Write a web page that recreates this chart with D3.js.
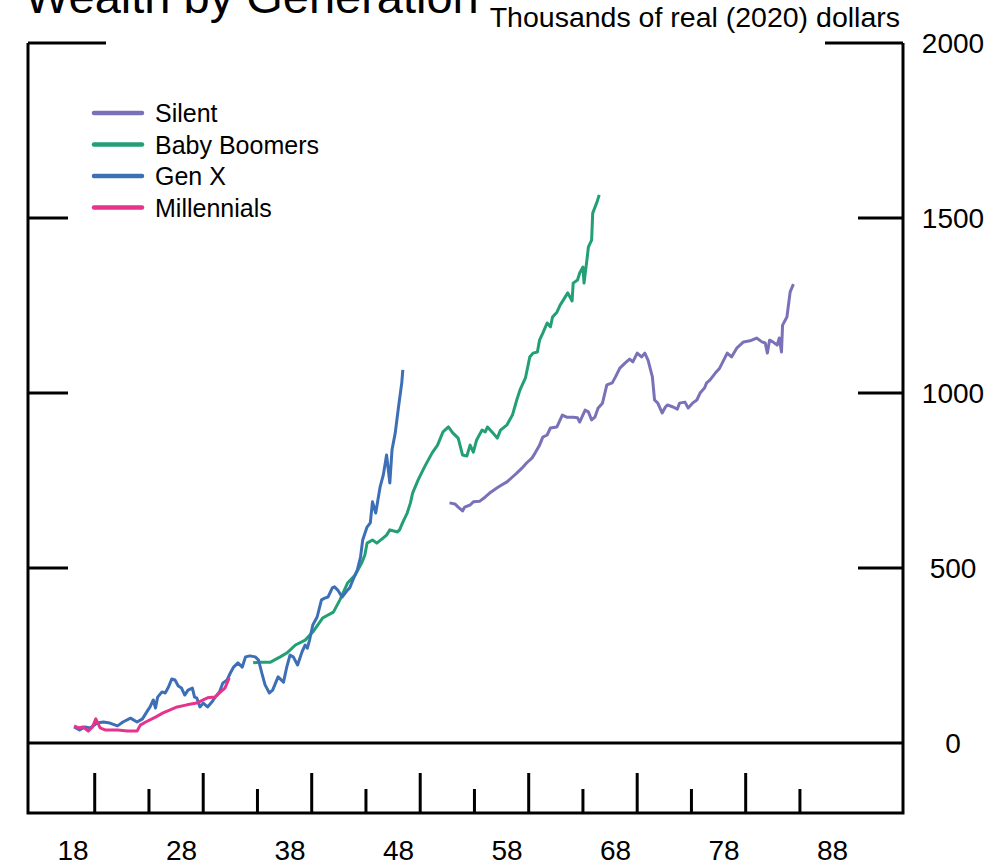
<!DOCTYPE html>
<html>
<head>
<meta charset="utf-8">
<script src="https://cdn.jsdelivr.net/npm/d3@7"></script>
<style>
  body { margin: 0; background: #fff; }
  text { font-family: "Liberation Sans", Arial, sans-serif; fill: #000; }
</style>
</head>
<body>
<svg id="chart" width="1005" height="866"></svg>
<script>
// ages (x) and wealth in thousands of 2020 dollars (y)
var silentAge = [52.7,53.2,53.5,53.9,54.1,54.6,54.9,55.5,56.0,56.4,57.1,57.5,58.0,58.5,58.9,59.4,59.8,60.3,60.6,61.0,61.3,61.7,62.0,62.6,63.1,63.5,64.1,64.5,64.7,65.2,65.5,65.8,66.1,66.4,66.8,67.2,67.7,68.0,68.4,68.9,69.3,69.6,70.0,70.4,70.7,71.0,71.4,71.6,71.9,72.3,72.6,72.8,73.3,73.7,73.9,74.4,74.7,75.1,75.5,75.8,76.2,76.4,76.7,77.2,77.6,78.3,78.7,79.2,79.8,80.4,81.0,81.5,81.8,82.0,82.2,82.5,82.9,83.1,83.3,83.4,83.8,84.1,84.4];
var silentVal = [686,683,674,663,674,680,689,691,703,714,729,737,746,760,771,786,800,814,829,851,874,880,900,903,937,931,931,929,917,951,946,923,931,957,971,1023,1029,1046,1071,1086,1097,1089,1114,1103,1114,1094,1046,980,971,943,960,966,960,954,971,974,957,971,980,1000,1014,1029,1037,1057,1071,1114,1103,1129,1146,1149,1157,1146,1143,1114,1151,1146,1137,1157,1117,1194,1217,1289,1311];

var boomerAge = [34.6,35.2,36.2,37.1,37.7,38.5,39.4,40.1,41.0,42.0,42.6,43.3,44.0,44.6,44.9,45.1,45.6,46.0,46.6,46.9,47.2,47.9,48.1,48.4,48.8,49.1,49.3,49.8,50.4,51.1,51.6,52.1,52.6,53.0,53.5,53.9,54.3,54.6,54.9,55.2,55.7,56.0,56.2,56.7,57.1,57.4,58.0,58.5,58.9,59.2,59.7,60.1,60.4,60.8,61.0,61.3,61.7,62.0,62.2,62.6,62.9,63.2,63.6,64.0,64.1,64.5,64.7,65.0,65.1,65.4,65.5,65.8,65.9,66.3,66.5];
var boomerVal = [229,231,231,246,257,280,294,317,357,374,409,457,480,514,537,571,580,571,586,594,609,603,609,631,657,686,714,751,789,829,851,889,903,886,871,823,820,851,831,866,894,889,903,886,871,894,909,937,980,1009,1043,1103,1114,1117,1151,1171,1200,1189,1217,1231,1251,1266,1286,1263,1314,1323,1343,1360,1314,1389,1417,1437,1514,1546,1566];

var genxAge = [18.1,18.6,19.1,19.6,20.2,20.8,21.4,22.1,22.6,23.3,23.9,24.4,24.9,25.1,25.4,25.6,25.8,26.2,26.5,26.8,27.1,27.4,27.7,28.0,28.3,28.6,29.0,29.2,29.4,29.7,30.0,30.4,30.8,31.1,31.5,31.8,32.2,32.5,32.8,33.2,33.6,33.9,34.3,34.8,35.1,35.4,35.7,36.1,36.4,36.9,37.4,37.7,38.0,38.3,38.7,39.1,39.4,39.6,39.8,40.1,40.5,40.9,41.2,41.5,41.9,42.1,42.4,42.8,43.3,43.5,43.8,44.2,44.5,44.7,45.1,45.4,45.6,45.9,46.1,46.3,46.6,46.9,47.2,47.4,47.7,48.0,48.3,48.4];
var genxVal = [46,37,46,43,57,60,57,49,60,71,60,69,94,103,123,100,131,146,143,160,183,180,163,157,137,151,157,131,129,103,114,103,117,131,146,171,180,200,217,229,217,246,249,246,237,200,166,143,151,189,174,217,251,246,223,260,280,271,294,337,360,409,414,417,443,446,437,417,437,443,466,494,531,580,617,629,689,657,694,731,766,823,743,837,886,960,1029,1066];

var millAge = [18.1,18.5,18.9,19.4,19.8,20.1,20.5,21.0,22.1,23.0,23.9,24.2,24.7,25.6,26.3,26.9,27.6,28.5,29.4,30.0,30.4,30.8,31.1,31.5,32.0,32.4];
var millVal = [49,43,46,34,46,69,43,37,37,34,34,51,60,74,86,94,103,109,114,123,129,131,131,143,157,186];

var seriesNames = ["Silent", "Baby Boomers", "Gen X", "Millennials"];
var seriesColors = ["#7a72b9", "#22a074", "#3d6fb6", "#e6338d"];

var yTicks = [0, 500, 1000, 1500, 2000];
var xMajor = [20, 30, 40, 50, 60, 70, 80];
var xMinor = [25, 35, 45, 55, 65, 75, 85];
var xLabels = [18, 28, 38, 48, 58, 68, 78, 88];

var svg = d3.select("#chart");
var plotLeft = 28, plotRight = 903, plotTop = 43, plotBottom = 813;

var x = d3.scaleLinear().domain([13.85, 94.5]).range([plotLeft, plotRight]);
var y = d3.scaleLinear().domain([-200, 2000]).range([plotBottom, plotTop]);

function pairs(ages, vals) {
    return ages.map(function(a, i) { return {age: a, val: vals[i]}; });
}
var series = [
    pairs(silentAge, silentVal),
    pairs(boomerAge, boomerVal),
    pairs(genxAge, genxVal),
    pairs(millAge, millVal)
];

// title (partly off the top of the picture, as in the original) and unit label
svg.append("text")
    .attr("x", 25).attr("y", 13)
    .attr("font-size", 47)
    .text("Wealth by Generation");
svg.append("text")
    .attr("x", 900).attr("y", 27)
    .attr("font-size", 28.5)
    .attr("text-anchor", "end")
    .text("Thousands of real (2020) dollars");

// frame: left, right and bottom sides
var frame = svg.append("g").attr("stroke", "#000").attr("stroke-width", 3).attr("fill", "none");
frame.append("path")
    .attr("d", "M" + plotLeft + "," + plotTop + "V" + plotBottom + "H" + plotRight + "V" + plotTop);

// y ticks on both sides
yTicks.filter(function(t) { return t > 0; }).forEach(function(t) {
    var inL = t == 2000 ? 78 : 40;
    var inR = t == 2000 ? 78 : 45;
    frame.append("line").attr("x1", plotLeft).attr("x2", plotLeft + inL)
        .attr("y1", y(t)).attr("y2", y(t));
    frame.append("line").attr("x1", plotRight - inR).attr("x2", plotRight)
        .attr("y1", y(t)).attr("y2", y(t));
});
// zero line
frame.append("line").attr("x1", plotLeft).attr("x2", plotRight)
    .attr("y1", y(0)).attr("y2", y(0));

// x ticks rising from the bottom
frame.selectAll(".major").data(xMajor).enter().append("line")
    .attr("x1", function(d) { return x(d); }).attr("x2", function(d) { return x(d); })
    .attr("y1", plotBottom).attr("y2", plotBottom - 40);
frame.selectAll(".minor").data(xMinor).enter().append("line")
    .attr("x1", function(d) { return x(d); }).attr("x2", function(d) { return x(d); })
    .attr("y1", plotBottom).attr("y2", plotBottom - 24);

svg.selectAll(".ylab").data(yTicks).enter().append("text")
    .attr("x", 953)
    .attr("y", function(d) { return y(d) + 10; })
    .attr("font-size", 28)
    .attr("text-anchor", "middle")
    .text(function(d) { return d; });

svg.selectAll(".xlab").data(xLabels).enter().append("text")
    .attr("x", function(d) { return x(d); })
    .attr("y", 860)
    .attr("font-size", 28)
    .attr("text-anchor", "middle")
    .text(function(d) { return d; });

// lines
var line = d3.line()
    .x(function(d) { return x(d.age); })
    .y(function(d) { return y(d.val); });

svg.selectAll(".gen").data(series).enter().append("path")
    .attr("fill", "none")
    .attr("stroke", function(d, i) { return seriesColors[i]; })
    .attr("stroke-width", 3)
    .attr("stroke-linejoin", "round")
    .attr("d", line);

// legend
var legend = svg.selectAll(".leg").data(seriesNames).enter().append("g")
    .attr("transform", function(d, i) { return "translate(94," + (113 + i * 31.5) + ")"; });
legend.append("line")
    .attr("x1", 0).attr("x2", 48)
    .attr("stroke", function(d, i) { return seriesColors[i]; })
    .attr("stroke-width", 4.5)
    .attr("stroke-linecap", "round");
legend.append("text")
    .attr("x", 61).attr("y", 9)
    .attr("font-size", 25)
    .text(function(d) { return d; });
</script>
</body>
</html>
